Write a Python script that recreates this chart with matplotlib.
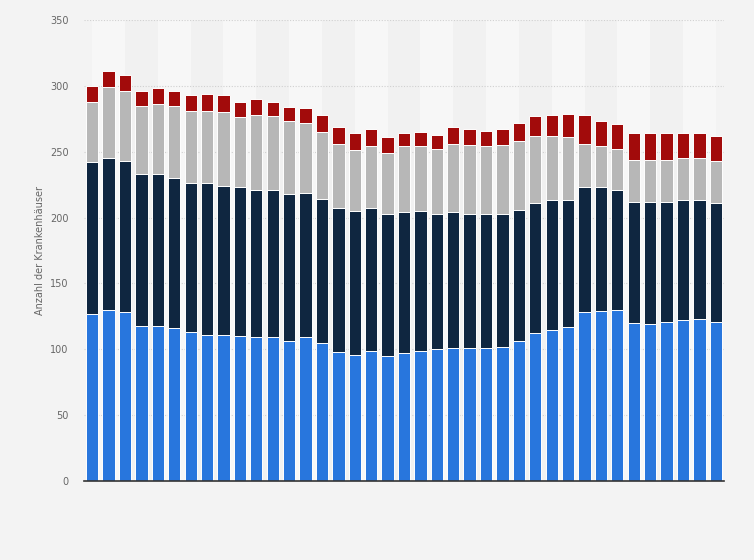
import numpy as np
import matplotlib.pyplot as plt

# four stacked groups, bottom to top
blue = [127, 130, 128, 118, 118, 116, 113, 111, 111, 110, 109, 109, 106, 109, 105,
        98, 96, 99, 95, 97, 99, 100, 101, 101, 101, 102, 106, 112, 115, 117,
        128, 129, 130, 120, 119, 121, 122, 123, 121]
navy = [115, 115, 115, 115, 115, 114, 113, 115, 113, 113, 112, 112, 112, 110, 109,
        109, 109, 108, 108, 107, 106, 103, 103, 102, 102, 101, 100, 99, 98, 96,
        95, 94, 91, 92, 93, 91, 91, 90, 90]
grey = [46, 54, 53, 52, 53, 55, 55, 55, 56, 53, 57, 56, 55, 53, 51,
        49, 46, 47, 46, 50, 49, 49, 52, 52, 51, 52, 52, 51, 49, 48,
        33, 31, 31, 32, 32, 32, 32, 32, 32]
red = [12, 12, 12, 11, 12, 11, 12, 13, 13, 12, 12, 11, 11, 11, 13,
       13, 13, 13, 12, 10, 11, 11, 13, 12, 12, 12, 14, 15, 16, 18,
       22, 19, 19, 20, 20, 20, 19, 19, 19]

yticks = [0, 50, 100, 150, 200, 250, 300, 350]

n = len(blue)
x = np.arange(n)

fig = plt.figure(figsize=(7.54, 5.60), dpi=100, facecolor='#f3f3f3')
ax = fig.add_axes([0.1114, 0.1411, 0.8488, 0.8232])
ax.set_facecolor('#f3f3f3')

# alternating background stripes
for i in range(0, n - 1, 2):
    c = '#f7f7f7' if (i // 2) % 2 == 0 else '#f1f1f1'
    ax.axvspan(i, i + 2 if i + 2 < n else n - 1, color=c, zorder=0, lw=0)

for yv in yticks[1:]:
    ax.axhline(yv, color='#d0d0d0', lw=0.8, ls=(0, (1, 1.5)), zorder=1)

w = 0.75
kw = dict(width=w, edgecolor='white', linewidth=0.7, zorder=3)
b1 = np.array(blue)
b2 = b1 + np.array(navy)
b3 = b2 + np.array(grey)
ax.bar(x, blue, color='#2876dd', **kw)
ax.bar(x, navy, bottom=b1, color='#0f2640', **kw)
ax.bar(x, grey, bottom=b2, color='#b7b7b7', **kw)
ax.bar(x, red, bottom=b3, color='#a20b0b', **kw)

ax.set_xlim(-0.5, n - 0.5)
ax.set_ylim(0, 350)
ax.set_yticks(yticks)
ax.set_xticks([])
ax.tick_params(axis='y', length=0, pad=11, labelsize=7, labelcolor='#666666')
for s in ['top', 'right', 'left']:
    ax.spines[s].set_visible(False)
ax.spines['bottom'].set_color('#333333')
ax.spines['bottom'].set_linewidth(1.2)
ax.spines['bottom'].set_zorder(5)

ax.set_ylabel('Anzahl der Krankenhäuser', fontsize=7, color='#666666', labelpad=4)

fig.savefig('out.png', dpi=100, facecolor=fig.get_facecolor())
